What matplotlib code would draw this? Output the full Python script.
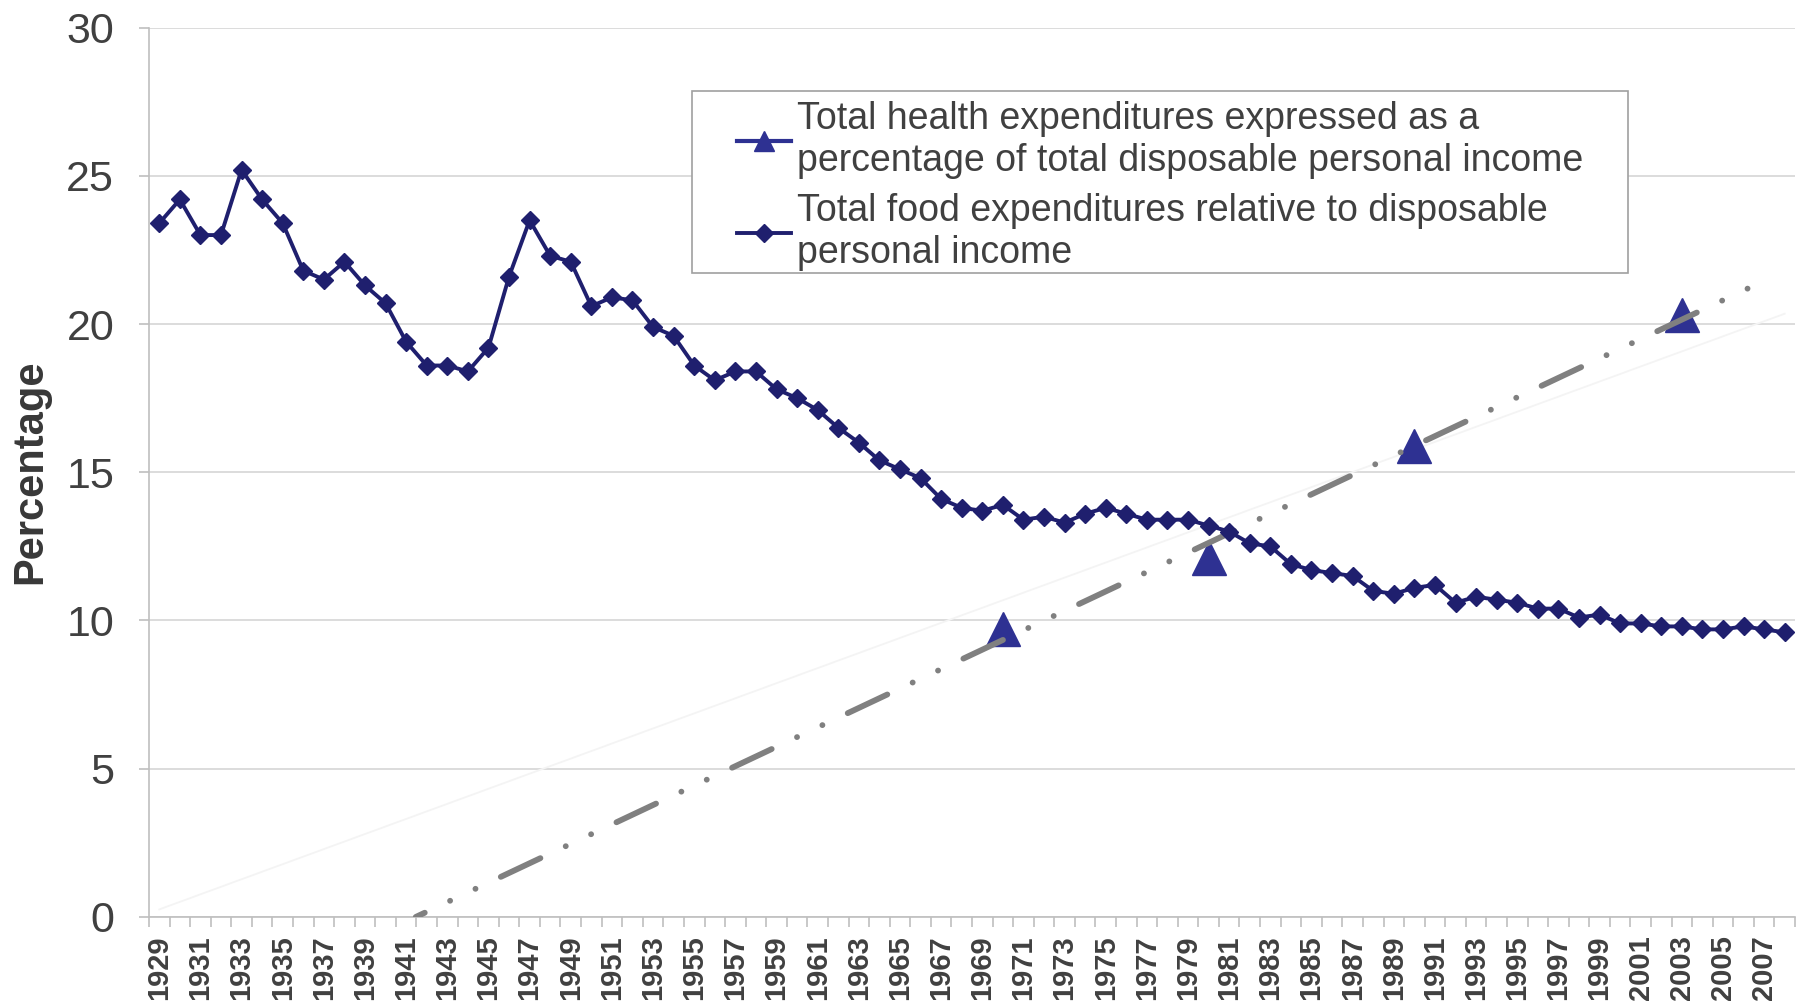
import numpy as np
import matplotlib.pyplot as plt
from matplotlib.patches import Rectangle

# Data
years = list(range(1929, 2009))
food_pct = [
    23.4, 24.2, 23.0, 23.0, 25.2, 24.2, 23.4, 21.8, 21.5, 22.1,   # 1929-1938
    21.3, 20.7, 19.4, 18.6, 18.6, 18.4, 19.2, 21.6, 23.5, 22.3,   # 1939-1948
    22.1, 20.6, 20.9, 20.8, 19.9, 19.6, 18.6, 18.1, 18.4, 18.4,   # 1949-1958
    17.8, 17.5, 17.1, 16.5, 16.0, 15.4, 15.1, 14.8, 14.1, 13.8,   # 1959-1968
    13.7, 13.9, 13.4, 13.5, 13.3, 13.6, 13.8, 13.6, 13.4, 13.4,   # 1969-1978
    13.4, 13.2, 13.0, 12.6, 12.5, 11.9, 11.7, 11.6, 11.5, 11.0,   # 1979-1988
    10.9, 11.1, 11.2, 10.6, 10.8, 10.7, 10.6, 10.4, 10.4, 10.1,   # 1989-1998
    10.2, 9.9, 9.9, 9.8, 9.8, 9.7, 9.7, 9.8, 9.7, 9.6,            # 1999-2008
]
health_years = [1970, 1980, 1990, 2003]
health_pct = [9.7, 12.1, 15.9, 20.3]

label_health = "Total health expenditures expressed as a\npercentage of total disposable personal income"
label_food = "Total food expenditures relative to disposable\npersonal income"

navy = '#1F1F6E'
health_col = '#2E3192'
txt = '#404040'

# health series on the full category axis, gaps as NaN (like Excel)
health_series = np.full(len(years), np.nan)
for yr, v in zip(health_years, health_pct):
    health_series[years.index(yr)] = v

# Excel trendlines use the category number (1..N) as x
cat = np.array(years) - 1928
hcat = np.array(health_years) - 1928
slope, icpt = np.polyfit(hcat, health_pct, 1)
slope0 = np.sum(hcat * np.array(health_pct)) / np.sum(hcat ** 2)  # intercept set to 0

# linear trend drawn from where it crosses 0 up to the last health category
trend_x = np.array([-icpt / slope, cat[-2]])
trend_y = slope * trend_x + icpt

plt.rcParams.update({'font.family': 'Liberation Sans'})
fig = plt.figure(figsize=(17.97, 10.05), dpi=100)
ax = fig.add_axes([0.0829, 0.0876, 0.916, 0.885])

ax.plot(years, slope0 * cat, color='#f4f4f4', lw=1.3, zorder=2)
ax.plot(years, health_series, color=health_col, lw=3, marker='^', ms=25,
        label=label_health, zorder=3)
ax.plot(trend_x + 1928, trend_y, color='#808080', lw=4.2,
        linestyle=(5.8, (7.5, 4.8, 0.01, 4.8, 0.01, 4.8)),
        dash_capstyle='round', zorder=4)
ax.plot(years, food_pct, color=navy, lw=2.8, marker='D', ms=9,
        label=label_food, zorder=5)

ax.set_ylim(0, 30)
ax.set_xlim(1928.5, 2008.5)
ax.set_yticks(range(0, 31, 5))
ax.set_xticks(years[::2])
ax.set_xticks(np.arange(1928.5, 2009, 1), minor=True)
ax.set_xticklabels([str(y) for y in years[::2]], rotation=90, fontweight='bold')

ax.yaxis.grid(True, color='#D9D9D9', lw=1.3)
ax.set_axisbelow(True)
for s in ['top', 'right']:
    ax.spines[s].set_visible(False)
for s in ['left', 'bottom']:
    ax.spines[s].set_color('#BFBFBF')
    ax.spines[s].set_linewidth(1.2)

ax.tick_params(axis='y', length=7, width=1.2, color='#BFBFBF', pad=18,
               labelsize=31, labelcolor=txt)
ax.tick_params(axis='x', which='major', length=0, pad=13, labelsize=21, labelcolor=txt)
ax.tick_params(axis='x', which='minor', length=7, width=1.2, color='#BFBFBF')

ax.set_ylabel('Percentage', fontsize=30, fontweight='bold', color='#383838')
ax.yaxis.set_label_coords(-0.06, 0.5)

# legend box drawn separately, entries placed inside
ax.add_patch(Rectangle((0.33, 0.724), 0.5685, 0.205, transform=ax.transAxes,
                       facecolor='white', edgecolor='#A0A0A0', lw=1.2, zorder=6))
leg = ax.legend(loc='upper left', bbox_to_anchor=(0.357, 0.917), frameon=False,
                fontsize=27, labelcolor=txt, handlelength=1.45, handletextpad=0.15,
                borderpad=0, borderaxespad=0, labelspacing=0.38)
leg.set_zorder(7)
leg.legend_handles[0].set_markersize(15)
leg.legend_handles[1].set_markersize(9)

fig.patch.set_facecolor('white')
fig.savefig('out.png', dpi=100)
